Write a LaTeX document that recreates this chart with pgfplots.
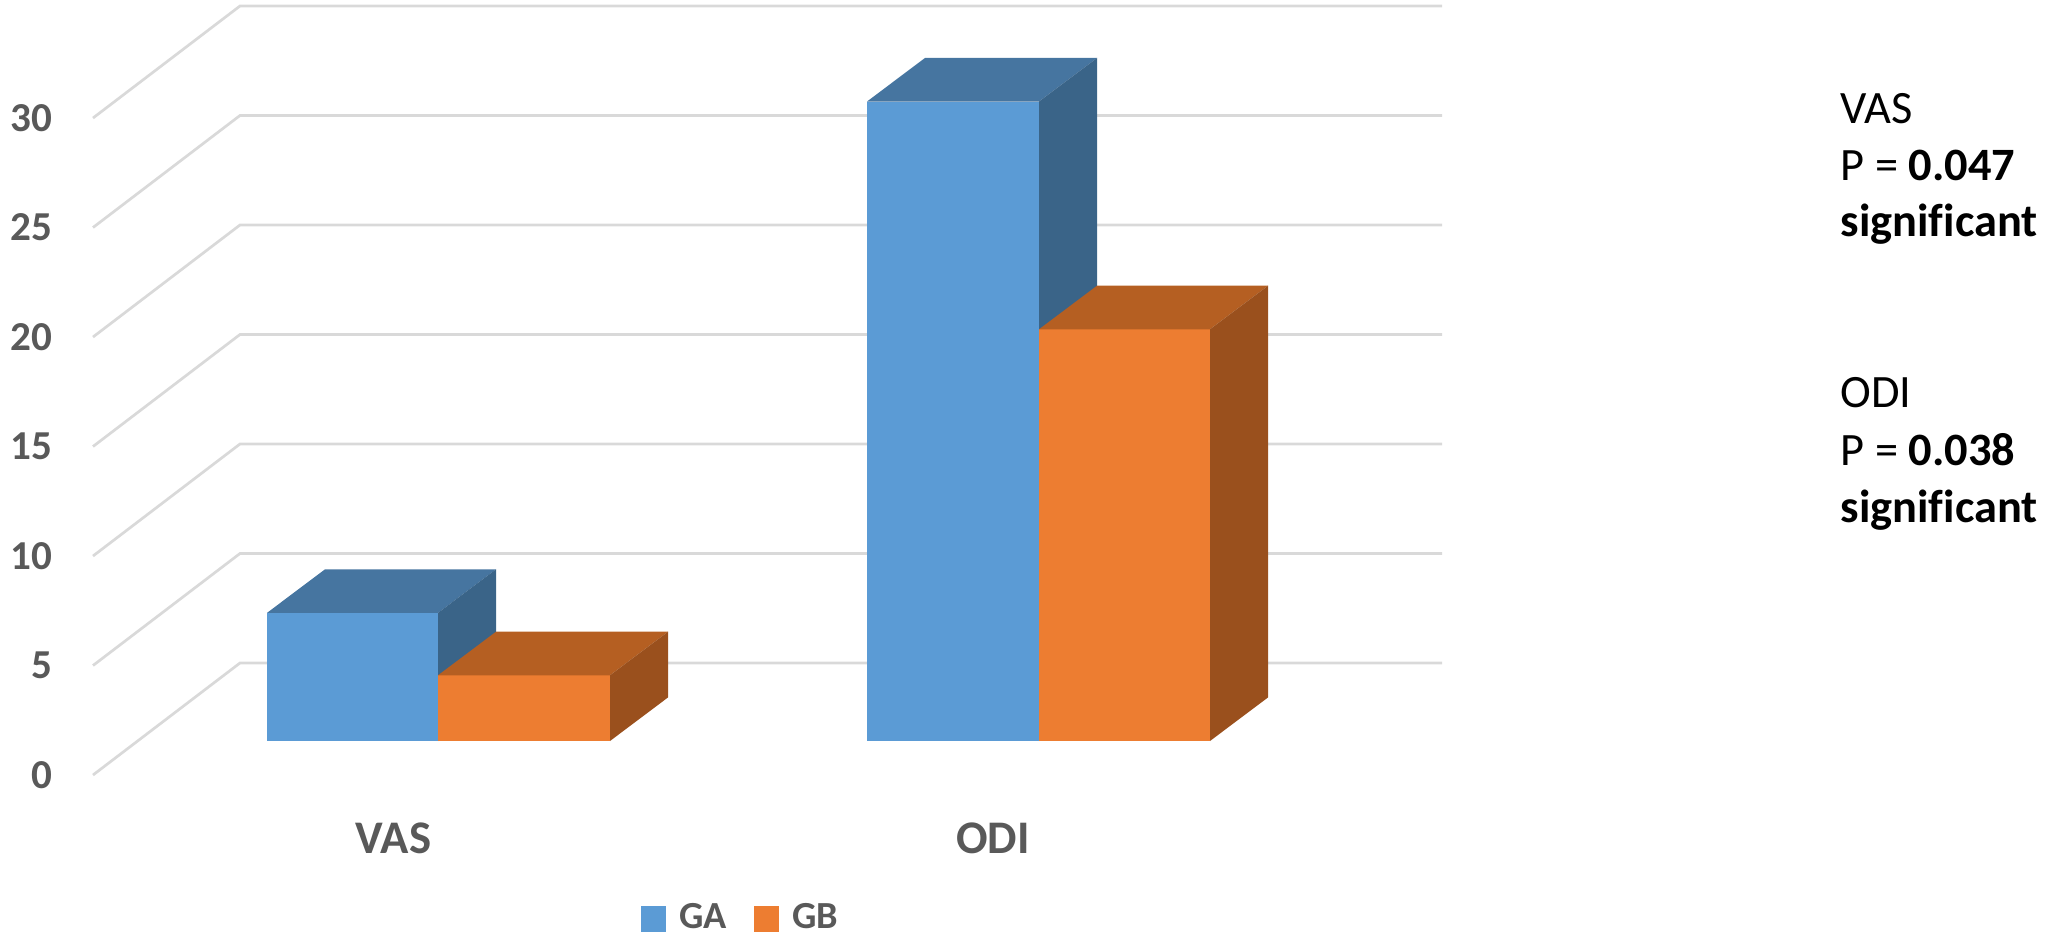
\documentclass[border=0pt]{standalone}
\usepackage{pgfplots}
\pgfplotsset{compat=1.18}
\usepackage{fontspec}
\setmainfont{Carlito}[Ligatures=CommonOff]
\definecolor{gaF}{HTML}{5B9BD5}
\definecolor{gaT}{HTML}{4675A0}
\definecolor{gaS}{HTML}{3A6488}
\definecolor{gbF}{HTML}{ED7D31}
\definecolor{gbT}{HTML}{B55F22}
\definecolor{gbS}{HTML}{9A501D}
\definecolor{gridc}{HTML}{D9D9D9}
\definecolor{labg}{HTML}{595959}
\begin{document}
\begin{tikzpicture}
\begin{axis}[
  scale only axis, width=204.9mm, height=93.7mm,
  xmin=0, xmax=2049, ymin=-8.950, ymax=33.836,
  clip=false,
  axis line style={draw=none},
  tick style={draw=none},
  /pgf/number format/assume math mode=true,
  ytick={0,5,...,30},
  yticklabel style={font=\fontsize{11.7}{14}\selectfont\bfseries, text=labg, anchor=east, inner sep=0pt, xshift=5.3mm, yshift=-3.4mm},
  xtick={393.5,993},
  xticklabels={VAS,ODI},
  xticklabel style={font=\fontsize{13.3}{16}\selectfont\bfseries, text=labg, anchor=center, inner sep=0pt, yshift=9.9mm},
  legend style={draw=none, fill=none, at={(axis cs:641,-8.128)}, anchor=west,
    inner sep=0pt, outer sep=0pt, font=\fontsize{10.9}{13}\selectfont\bfseries, text=labg,
    nodes={inner sep=0pt},
    /tikz/every odd column/.append style={column sep=1.3mm},
    /tikz/every even column/.append style={column sep=2.7mm}},
  legend columns=2,
]
% gridlines (side wall and back wall)
\pgfplotsinvokeforeach{0,5,10,15,20,25,30}{
  \addplot[forget plot, gridc, line width=0.27mm] coordinates {(93,#1-1.553) (240,#1+3.562) (1442,#1+3.562)};
}
% VAS GA = 5.85
\addplot[forget plot, fill=gaF, draw=none] coordinates {(267,0) (438,0) (438,5.85) (267,5.85)} --cycle;
\addplot[forget plot, fill=gaT, draw=none] coordinates {(267,5.85) (438,5.85) (496,7.84) (325,7.84)} --cycle;
\addplot[forget plot, fill=gaS, draw=none] coordinates {(438,0) (496,1.99) (496,7.84) (438,5.85)} --cycle;
% VAS GB = 3.0
\addplot[forget plot, fill=gbF, draw=none] coordinates {(438,0) (610,0) (610,3.0) (438,3.0)} --cycle;
\addplot[forget plot, fill=gbT, draw=none] coordinates {(438,3.0) (610,3.0) (668,4.99) (496,4.99)} --cycle;
\addplot[forget plot, fill=gbS, draw=none] coordinates {(610,0) (668,1.99) (668,4.99) (610,3.0)} --cycle;
% ODI GA = 29.2
\addplot[forget plot, fill=gaF, draw=none] coordinates {(867,0) (1039,0) (1039,29.2) (867,29.2)} --cycle;
\addplot[forget plot, fill=gaT, draw=none] coordinates {(867,29.2) (1039,29.2) (1097,31.19) (925,31.19)} --cycle;
\addplot[forget plot, fill=gaS, draw=none] coordinates {(1039,0) (1097,1.99) (1097,31.19) (1039,29.2)} --cycle;
% ODI GB = 18.8
\addplot[forget plot, fill=gbF, draw=none] coordinates {(1039,0) (1210,0) (1210,18.8) (1039,18.8)} --cycle;
\addplot[forget plot, fill=gbT, draw=none] coordinates {(1039,18.8) (1210,18.8) (1268,20.79) (1097,20.79)} --cycle;
\addplot[forget plot, fill=gbS, draw=none] coordinates {(1210,0) (1268,1.99) (1268,20.79) (1210,18.8)} --cycle;
% legend
\addlegendimage{legend image code/.code={\fill[gaF] (0mm,-1.2mm) rectangle (2.4mm,1.2mm);}}
\addlegendentry{GA}
\addlegendimage{legend image code/.code={\fill[gbF] (0mm,-1.2mm) rectangle (2.4mm,1.2mm);}}
\addlegendentry{GB}
% annotations
\begin{scope}[every node/.style={font=\fontsize{13.2}{16}\selectfont, text=black, anchor=base west, inner sep=0pt}]
\node at (axis cs:1840,28.219) {VAS};
\node at (axis cs:1840,25.616) {P = \textbf{0.047}};
\node at (axis cs:1840,23.014) {\textbf{significant}};
\node at (axis cs:1840,15.251) {ODI};
\node at (axis cs:1840,12.603) {P = \textbf{0.038}};
\node at (axis cs:1840,10.0) {\textbf{significant}};
\end{scope}
\end{axis}
\end{tikzpicture}
\end{document}
